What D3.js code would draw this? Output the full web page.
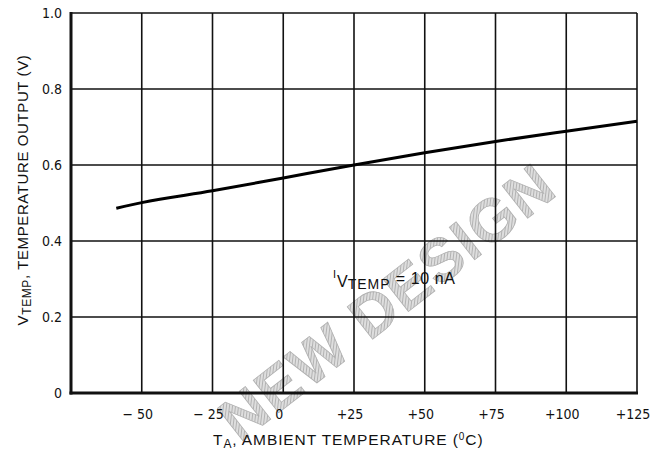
<!DOCTYPE html>
<html><head><meta charset="utf-8">
<script src="https://cdn.jsdelivr.net/npm/d3@7"></script>
<style>
body{margin:0;background:#fff;}
text{font-family:"Liberation Sans Narrow","DejaVu Sans Condensed","Liberation Sans",sans-serif;fill:#111;}
.lab{font-family:"Liberation Sans",Arial,sans-serif;}
</style></head><body>
<svg id="c" width="666" height="454"></svg>
<script>
const temps = [-59, -50, -25, 0, 25, 50, 75, 100, 125];
const volts = [0.486, 0.501, 0.532, 0.566, 0.600, 0.632, 0.662, 0.689, 0.715];
const xTicks = [-50, -25, 0, 25, 50, 75, 100, 125];
const xTickLabels = ["\u2212 50", "\u2212 25", "0", "+25", "+50", "+75", "+100", "+125"];
const yTicks = [0, 0.2, 0.4, 0.6, 0.8, 1.0];
const yTickLabels = ["0", "0.2", "0.4", "0.6", "0.8", "1.0"];

const svg = d3.select("#c");
const x = d3.scaleLinear().domain([-75, 125]).range([71, 637]);
const y = d3.scaleLinear().domain([0, 1]).range([393, 13]);

// watermark
const defs = svg.append("defs");
const pat = defs.append("pattern").attr("id","hatch").attr("width",3).attr("height",3)
  .attr("patternUnits","userSpaceOnUse").attr("patternTransform","rotate(45)");
pat.append("rect").attr("width",3).attr("height",3).attr("fill","#dedede");
pat.append("line").attr("x1",0).attr("y1",0).attr("x2",0).attr("y2",3).attr("stroke","#9a9a9a").attr("stroke-width",1.3);
svg.append("text").attr("class","lab").attr("transform","translate(400,318) rotate(-38)")
  .attr("text-anchor","middle").attr("font-size",60).attr("font-weight","bold")
  .style("fill","url(#hatch)").style("stroke","#b0b0b0").style("stroke-width",0.8)
  .attr("letter-spacing",2).text("NEW DESIGN");

// grid
svg.append("g").selectAll("line").data(xTicks).join("line")
  .attr("x1", d=>x(d)).attr("x2", d=>x(d)).attr("y1", y(1)).attr("y2", y(0))
  .attr("stroke","#111").attr("stroke-width",1.6);
svg.append("g").selectAll("line").data(yTicks.filter(d=>d>0)).join("line")
  .attr("x1", x(-75)).attr("x2", x(125)).attr("y1", d=>y(d)).attr("y2", d=>y(d))
  .attr("stroke","#111").attr("stroke-width",1.6);
// frame
svg.append("line").attr("x1",x(-75)).attr("x2",x(-75)).attr("y1",y(1)-1).attr("y2",y(0)+1.5).attr("stroke","#111").attr("stroke-width",3);
svg.append("line").attr("x1",x(-75)-1.5).attr("x2",x(125)+1).attr("y1",y(0)).attr("y2",y(0)).attr("stroke","#111").attr("stroke-width",3);

// curve
svg.append("path").datum(temps.map((t,i)=>[t, volts[i]]))
  .attr("d", d3.line().x(d=>x(d[0])).y(d=>y(d[1])).curve(d3.curveMonotoneX))
  .attr("fill","none").attr("stroke","#000").attr("stroke-width",3);

// y tick labels
svg.append("g").selectAll("text").data(yTicks).join("text")
  .attr("x", 62).attr("y", d=>y(d)+5).attr("text-anchor","end").attr("font-size",14)
  .text((d,i)=>yTickLabels[i]);
// x tick labels
svg.append("g").selectAll("text").data(xTicks).join("text")
  .attr("x", d=>x(d)-4).attr("y", 419).attr("text-anchor","middle").attr("font-size",14)
  .text((d,i)=>xTickLabels[i]);

// x title
const xt = svg.append("text").attr("class","lab").attr("x", 213).attr("y", 445).attr("font-size",15.5).attr("letter-spacing",0.9);
xt.append("tspan").text("T");
xt.append("tspan").attr("font-size",12).attr("dy",3).text("A");
xt.append("tspan").attr("dy",-3).text(", AMBIENT TEMPERATURE (");
xt.append("tspan").attr("font-size",10).attr("dy",-5).text("0");
xt.append("tspan").attr("dy",5).text("C)");

// y title
const yt = svg.append("text").attr("class","lab").attr("transform","translate(28,190) rotate(-90)")
  .attr("text-anchor","middle").attr("font-size",15).attr("letter-spacing",0.6);
yt.append("tspan").text("V");
yt.append("tspan").attr("font-size",12).attr("dy",3).text("TEMP");
yt.append("tspan").attr("dy",-3).text(", TEMPERATURE OUTPUT (V)");

// annotation
const an = svg.append("text").attr("class","lab").attr("x", 333).attr("y", 287).attr("font-size",16);
an.append("tspan").attr("font-size",11).attr("dy",-9).text("I");
an.append("tspan").attr("dy",9).attr("dx",1).text("V");
an.append("tspan").attr("font-size",14).attr("dy",2).attr("letter-spacing",1).text("TEMP");
an.append("tspan").attr("dy",-5).attr("letter-spacing",0.6).text(" = 10 nA");
</script></body></html>
